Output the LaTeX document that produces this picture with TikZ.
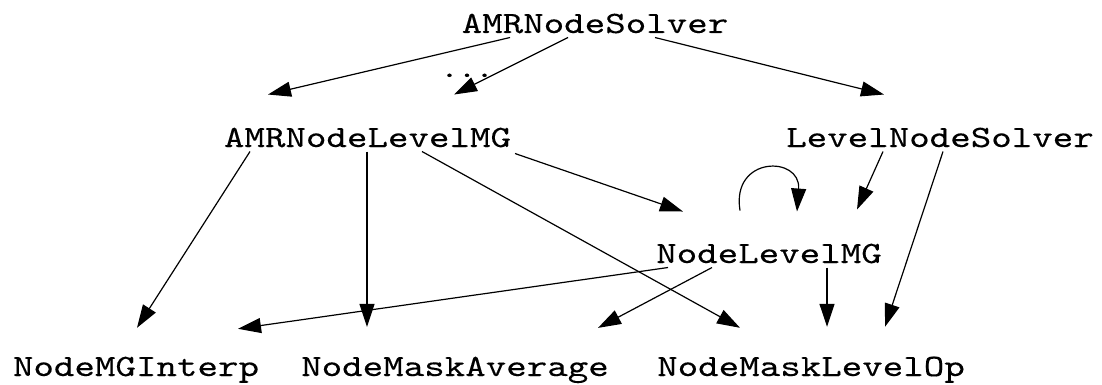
\documentclass[tikz,border=0pt]{standalone}
\usepackage{fontspec}
\newfontfamily\courfont{lmmono10-regular.otf}[FakeStretch=1.26,FakeBold=0.25]
\usetikzlibrary{arrows.meta,calc}
\begin{document}
\begin{tikzpicture}[x=1pt,y=-1pt,
  lbl/.style={inner sep=0pt,anchor=base,font=\courfont\fontsize{31}{36}\selectfont},
  dotlbl/.style={inner sep=0pt,anchor=base,font=\courfont\fontsize{26.5}{30}\selectfont},
  edge/.style={line width=1.2pt,-{Triangle[length=23pt,width=15pt]}}]
\useasboundingbox (0,0) rectangle (1102,385);
\node[lbl] (s) at (595,33) {AMRNodeSolver};
\node[dotlbl] (dots) at (467,77) {...};
\node[lbl] (lm) at (367.5,147) {AMRNodeLevelMG};
\node[lbl] (lns) at (940,147) {LevelNodeSolver};
\node[lbl] (nlm) at (769,263) {NodeLevelMG};
\node[lbl] (mgi) at (136,376) {NodeMGInterp};
\node[lbl] (mavg) at (455,376) {NodeMaskAverage};
\node[lbl] (mlo) at (811,376) {NodeMaskLevelOp};
% edges
\draw[edge] ($(s)+(-85,14)$) -- ($(lm)+(-99.5,-43)$);
\draw[edge] ($(s)+(-27,14)$) -- ($(lm)+(86.5,-43)$);
\draw[edge] ($(s)+(60,14)$) -- ($(lns)+(-56,-43)$);
\draw[edge] ($(lm)+(-117.5,14)$) -- ($(mgi)+(1,-42)$);
\draw[edge] ($(lm)+(-0.5,14)$) -- ($(mavg)+(-88,-43)$);
\draw[edge] ($(lm)+(54.5,14)$) -- ($(mlo)+(-71,-42)$);
\draw[edge] ($(lm)+(147.5,16)$) -- ($(nlm)+(-86,-42)$);
\draw[edge] ($(nlm)+(-29,-43)$) .. controls ($(nlm)+(-38,-98)$) and ($(nlm)+(32,-98)$) .. ($(nlm)+(28,-42)$);
\draw[edge] ($(lns)+(-57,14)$) -- ($(nlm)+(88,-44)$);
\draw[edge] ($(lns)+(3,14)$) -- ($(mlo)+(74,-43)$);
\draw[edge] ($(nlm)+(-101,14)$) -- ($(mgi)+(102,-41)$);
\draw[edge] ($(nlm)+(-57,14)$) -- ($(mavg)+(143,-42)$);
\draw[edge] ($(nlm)+(58,14)$) -- ($(mlo)+(16,-43)$);
\end{tikzpicture}
\end{document}
